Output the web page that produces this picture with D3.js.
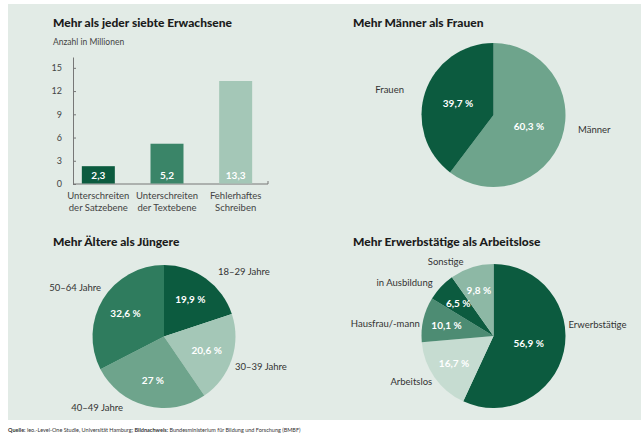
<!DOCTYPE html>
<html>
<head>
<meta charset="utf-8">
<script src="https://cdn.jsdelivr.net/npm/d3@7"></script>
<style>
  body { margin: 0; background: #fff; }
  svg { font-family: Lato, "Open Sans", sans-serif; display: block; }
</style>
</head>
<body>
<svg id="chart" width="643" height="436"></svg>
<script>
// Bar chart: Anzahl in Millionen
const barCategories = [["Unterschreiten", "der Satzebene"], ["Unterschreiten", "der Textebene"], ["Fehlerhaftes", "Schreiben"]];
const barValues = [2.3, 5.2, 13.3];
const barTicks = [0, 3, 6, 9, 12, 15];

// Geschlecht
const sexLabels = ["Männer", "Frauen"];
const sexValues = [60.3, 39.7];

// Alter
const ageLabels = ["18–29 Jahre", "30–39 Jahre", "40–49 Jahre", "50–64 Jahre"];
const ageValues = [19.9, 20.6, 27, 32.6];

// Erwerbsstatus
const jobLabels = ["Erwerbstätige", "Arbeitslos", "Hausfrau/-mann", "in Ausbildung", "Sonstige"];
const jobValues = [56.9, 16.7, 10.1, 6.5, 9.8];

const DARK = "#0c5b3f", MIDDARK = "#3a8568", MID = "#6ea48c", LIGHT = "#a4c7b7", PALE = "#c6dcd1", SOFT = "#8db8a5";

const fmt = v => String(v).replace(".", ",");

const svg = d3.select("#chart");

// panel background
svg.append("rect")
  .attr("x", 8).attr("y", 4)
  .attr("width", 633).attr("height", 416)
  .attr("fill", "#e2ebe6");

function title(x, y, t) {
  svg.append("text")
    .attr("x", x).attr("y", y)
    .style("font-size", "12px")
    .style("font-weight", "900")
    .attr("fill", "#1b1b1b")
    .text(t);
}

// ---------- Bar chart ----------
title(53, 27, "Mehr als jeder siebte Erwachsene");
svg.append("text")
  .attr("x", 53).attr("y", 45)
  .style("font-size", "8.5px")
  .attr("fill", "#444")
  .text("Anzahl in Millionen");

const y = d3.scaleLinear().domain([0, 16.4]).range([184, 57]);
const x = d3.scalePoint().domain(d3.range(barValues.length)).range([64, 270]).padding(0.5);
const barW = 33;

const yAxis = svg.append("g")
  .attr("transform", "translate(73,0)")
  .call(d3.axisLeft(y).tickValues(barTicks).tickSizeInner(-3).tickSizeOuter(0).tickPadding(11));
yAxis.select(".domain").attr("stroke", "#777");
yAxis.selectAll(".tick line").attr("stroke", "#777");
yAxis.selectAll("text").attr("fill", "#444").style("font-size", "9px").style("font-family", "Lato, sans-serif");

// x baseline
svg.append("path")
  .attr("d", `M73,${y(0)}H268V${y(0) - 3}`)
  .attr("fill", "none")
  .attr("stroke", "#777");

const barColors = [DARK, MIDDARK, LIGHT];
svg.selectAll("rect.bar")
  .data(barValues)
  .enter().append("rect")
    .attr("class", "bar")
    .attr("x", (d, i) => x(i) - barW / 2)
    .attr("y", d => y(d))
    .attr("width", barW)
    .attr("height", d => y(0) - y(d) - 0.5)
    .attr("fill", (d, i) => barColors[i]);

svg.selectAll("text.barval")
  .data(barValues)
  .enter().append("text")
    .attr("class", "barval")
    .attr("x", (d, i) => x(i))
    .attr("y", y(0) - 5)
    .attr("text-anchor", "middle")
    .style("font-size", "10px")
    .style("font-weight", "bold")
    .attr("fill", "#fff")
    .text(d => fmt(d));

barCategories.forEach((lines, i) => {
  const t = svg.append("text")
    .attr("x", x(i)).attr("y", 199)
    .attr("text-anchor", "middle")
    .style("font-size", "9.5px")
    .attr("fill", "#444");
  lines.forEach((l, j) => t.append("tspan").attr("x", x(i)).attr("dy", j ? 12 : 0).text(l));
});

// ---------- Pies ----------
// manual label nudges for readability (dx, dy)
const nudge = {
  "Männer": [3, -13],
  "Frauen": [-8, 2],
  "18–29 Jahre": [4, 5],
  "30–39 Jahre": [-10, 3],
  "40–49 Jahre": [-20, -12],
  "50–64 Jahre": [10, -4],
  "Erwerbstätige": [-9, -30],
  "Arbeitslos": [9, -4],
  "Hausfrau/-mann": [10, 7],
  "in Ausbildung": [2, 5],
  "Sonstige": [-4, 8]
};

function drawPie(cx, cy, r, labels, values, colors, innerR) {
  const g = svg.append("g").attr("transform", `translate(${cx},${cy})`);
  const pie = d3.pie().sort(null).value(d => d.v);
  const arcs = pie(values.map((v, i) => ({ v, label: labels[i] })));
  const arc = d3.arc().innerRadius(0).outerRadius(r);

  g.selectAll("path")
    .data(arcs)
    .enter().append("path")
      .attr("d", arc)
      .attr("fill", (d, i) => colors[i]);

  g.selectAll("text.inner")
    .data(arcs)
    .enter().append("text")
      .attr("class", "inner")
      .attr("transform", d => {
        const a = (d.startAngle + d.endAngle) / 2;
        const rr = innerR(d) * r;
        return `translate(${Math.sin(a) * rr},${-Math.cos(a) * rr})`;
      })
      .attr("text-anchor", "middle")
      .attr("dy", "0.35em")
      .style("font-size", "10px")
      .style("font-weight", "bold")
      .attr("fill", "#fff")
      .text(d => fmt(d.data.v) + " %");

  g.selectAll("text.outer")
    .data(arcs)
    .enter().append("text")
      .attr("class", "outer")
      .each(function(d) {
        const a = (d.startAngle + d.endAngle) / 2;
        const rr = r + 14;
        const n = nudge[d.data.label] || [0, 0];
        const px = Math.sin(a) * rr, py = -Math.cos(a) * rr;
        d3.select(this)
          .attr("x", px + n[0])
          .attr("y", py + n[1])
          .attr("text-anchor", px >= 0 ? "start" : "end");
      })
      .attr("dy", "0.35em")
      .style("font-size", "9.5px")
      .attr("fill", "#333")
      .text(d => d.data.label);
}

title(353, 27, "Mehr Männer als Frauen");
drawPie(493.5, 115, 72, sexLabels, sexValues, [MID, DARK], () => 0.52);

title(53, 246, "Mehr Ältere als Jüngere");
drawPie(164, 336.5, 71.5, ageLabels, ageValues, [DARK, LIGHT, MID, "#2f7c5e"], () => 0.63);

title(353, 246, "Mehr Erwerbstätige als Arbeitslose");
drawPie(493.5, 336, 72, jobLabels, jobValues, [DARK, PALE, "#4d8c73", DARK, SOFT], d => (d.endAngle - d.startAngle) > Math.PI ? 0.5 : 0.67);

// ---------- Source ----------
const src = svg.append("text")
  .attr("x", 8).attr("y", 432)
  .style("font-size", "5.5px")
  .attr("fill", "#333");
src.append("tspan").style("font-weight", "bold").text("Quelle: ");
src.append("tspan").text("leo.-Level-One Studie, Universität Hamburg; ");
src.append("tspan").style("font-weight", "bold").text("Bildnachweis: ");
src.append("tspan").text("Bundesministerium für Bildung und Forschung (BMBF)");
</script>
</body>
</html>
